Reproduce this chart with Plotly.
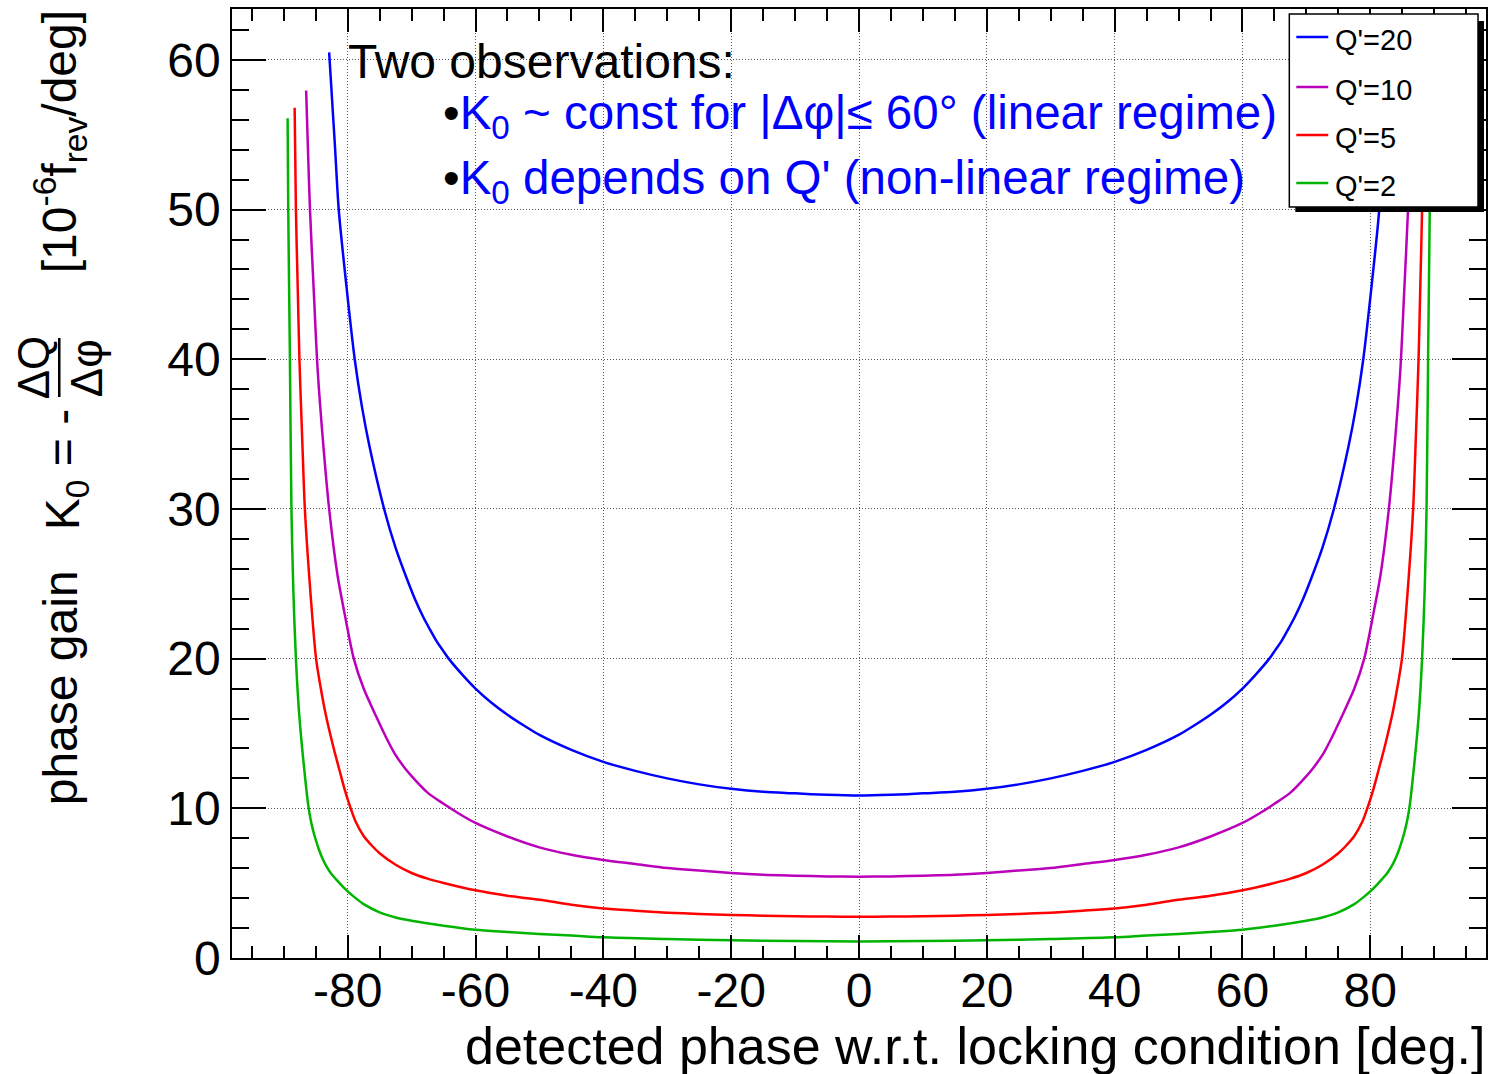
import plotly.graph_objects as go

# ---------------- data ----------------
phi_q20 = [-82.9, -82.0, -81.4, -80.2, -78.9, -77.8, -76.6, -74.3, -72.5, -70.8, -69.5, -68.2, -67.0, -66.0,
           -65.1, -64.2, -62.0, -60.0, -57.5, -55.0, -52.5, -50.0, -45.0, -40.0, -35.0, -30.0, -25.0, -20.0,
           -15.0, -10.0, -5.0,
           0.0,
           5.0, 10.0, 15.0, 20.0, 25.0, 30.0, 35.0, 40.0, 45.0, 50.0, 52.5, 55.0, 57.5, 60.0, 62.0,
           64.2, 65.1, 66.0, 67.0, 68.2, 69.5, 70.8, 72.5, 74.3, 76.6, 77.8, 78.9, 80.2, 81.4, 82.0, 82.9]
k_q20 = [60.5, 54.3, 50.0, 44.9, 40.0, 36.9, 34.2, 30.0, 27.4, 25.4, 24.0, 22.8, 21.85, 21.1,
         20.55, 20.0, 18.9, 18.0, 17.05, 16.25, 15.55, 14.9, 13.9, 13.1, 12.5, 12.0, 11.6, 11.3,
         11.1, 11.0, 10.9,
         10.85,
         10.9, 11.0, 11.1, 11.3, 11.6, 12.0, 12.5, 13.1, 13.9, 14.9, 15.55, 16.25, 17.05, 18.0, 18.9,
         20.0, 20.55, 21.1, 21.85, 22.8, 24.0, 25.4, 27.4, 30.0, 34.2, 36.9, 40.0, 44.9, 50.0, 54.3, 60.5]

phi_q10 = [-86.5, -86.2, -85.9, -85.3, -84.7, -83.8, -82.9, -81.6, -80.3, -79.05, -77.5, -75.5, -74.0, -72.5,
           -71.25, -70.0, -67.5, -65.0, -62.5, -60.0, -55.0, -50.0, -45.0, -40.0, -35.0, -30.0, -25.0, -20.0,
           -15.0, -10.0, -5.0,
           0.0,
           5.0, 10.0, 15.0, 20.0, 25.0, 30.0, 35.0, 40.0, 45.0, 50.0, 55.0, 60.0, 62.5, 65.0, 67.5,
           70.0, 71.25, 72.5, 74.0, 75.5, 77.5, 79.05, 80.3, 81.6, 82.9, 83.8, 84.7, 85.3, 85.9, 86.2, 86.5]
k_q10 = [57.95, 53.8, 50.0, 44.5, 39.3, 34.2, 30.0, 25.6, 22.6, 20.0, 18.0, 16.1, 14.75, 13.55,
         12.8, 12.15, 11.05, 10.3, 9.62, 9.02, 8.12, 7.39, 6.9, 6.55, 6.28, 6.01, 5.85, 5.68,
         5.56, 5.5, 5.45,
         5.43,
         5.45, 5.5, 5.56, 5.68, 5.85, 6.01, 6.28, 6.55, 6.9, 7.39, 8.12, 9.02, 9.62, 10.3, 11.05,
         12.15, 12.8, 13.55, 14.75, 16.1, 18.0, 20.0, 22.6, 25.6, 30.0, 34.2, 39.3, 44.5, 50.0, 53.8, 57.95]

phi_q5 = [-88.3, -88.1, -87.8, -87.55, -87.1, -86.7, -86.0, -84.95, -84.2, -83.5, -82.3, -81.1, -80.5, -80.0,
          -79.2, -78.8, -77.5, -76.2, -75.0, -72.5, -70.0, -67.5, -65.0, -60.0, -55.0, -50.0, -45.0, -40.0,
          -35.0, -30.0, -25.0, -20.0, -15.0, -10.0, -5.0,
          0.0,
          5.0, 10.0, 15.0, 20.0, 25.0, 30.0, 35.0, 40.0, 45.0, 50.0, 55.0, 60.0, 65.0, 67.5, 70.0,
          72.5, 75.0, 76.2, 77.5, 78.8, 79.2, 80.0, 80.5, 81.1, 82.3, 83.5, 84.2, 84.95, 86.0, 86.7,
          87.1, 87.55, 87.8, 88.1, 88.3]
k_q5 = [56.8, 50.0, 44.5, 40.0, 34.5, 30.0, 25.4, 20.0, 18.0, 16.4, 14.2, 12.25, 11.3, 10.6,
        9.6, 9.15, 8.15, 7.5, 7.0, 6.23, 5.68, 5.3, 5.01, 4.52, 4.16, 3.89, 3.56, 3.31,
        3.16, 3.03, 2.94, 2.87, 2.83, 2.79, 2.77,
        2.76,
        2.77, 2.79, 2.83, 2.87, 2.94, 3.03, 3.16, 3.31, 3.56, 3.89, 4.16, 4.52, 5.01, 5.3, 5.68,
        6.23, 7.0, 7.5, 8.15, 9.15, 9.6, 10.6, 11.3, 12.25, 14.2, 16.4, 18.0, 20.0, 25.4, 30.0,
        34.5, 40.0, 44.5, 50.0, 56.8]

phi_q2 = [-89.4, -89.3, -89.05, -88.8, -88.5, -88.1, -87.6, -87.1, -86.6, -86.2, -85.8, -85.4, -85.0, -84.5,
          -84.0, -83.3, -82.6, -81.8, -81.1, -80.0, -78.75, -77.5, -75.0, -72.5, -70.0, -65.0, -60.0, -55.0,
          -50.0, -45.0, -40.0, -30.0, -20.0, -10.0,
          0.0,
          10.0, 20.0, 30.0, 40.0, 45.0, 50.0, 55.0, 60.0, 65.0, 70.0, 72.5, 75.0, 77.5, 78.75, 80.0,
          81.1, 81.8, 82.6, 83.3, 84.0, 84.5, 85.0, 85.4, 85.8, 86.2, 86.6, 87.1, 87.6, 88.1, 88.5,
          88.8, 89.05, 89.3, 89.4]
k_q2 = [56.1, 50.0, 40.5, 30.0, 24.5, 20.0, 16.35, 13.9, 11.8, 10.3, 9.25, 8.5, 7.9, 7.25,
        6.7, 6.1, 5.65, 5.25, 4.92, 4.45, 4.0, 3.6, 3.05, 2.71, 2.49, 2.16, 1.89, 1.74,
        1.6, 1.5, 1.38, 1.27, 1.18, 1.13,
        1.11,
        1.13, 1.18, 1.27, 1.38, 1.5, 1.6, 1.74, 1.89, 2.16, 2.49, 2.71, 3.05, 3.6, 4.0, 4.45,
        4.92, 5.25, 5.65, 6.1, 6.7, 7.25, 7.9, 8.5, 9.25, 10.3, 11.8, 13.9, 16.35, 20.0, 24.5,
        30.0, 40.5, 50.0, 56.1]

series_names = ["Q'=20", "Q'=10", "Q'=5", "Q'=2"]
series_colors = ["#0000ff", "#bb00bb", "#ff0000", "#00b400"]
x_ticks = [-80, -60, -40, -20, 0, 20, 40, 60, 80]
x_ticktext = ["-80", "-60", "-40", "-20", "0", "20", "40", "60", "80"]
y_ticks = [0, 10, 20, 30, 40, 50, 60]

FONT = "Liberation Sans, Arial, Helvetica, sans-serif"

# ---------------- layout geometry (pixels) ----------------
W, H = 1492, 1074
ML, MR, MT, MB = 232, 4, 9, 116
PW, PH = W - ML - MR, H - MT - MB


def px(x):
    return (x - ML) / PW


def py(y):
    return (H - MB - y) / PH


fig = go.Figure()
for phi, k, name, col in zip([phi_q20, phi_q10, phi_q5, phi_q2],
                             [k_q20, k_q10, k_q5, k_q2],
                             series_names, series_colors):
    fig.add_trace(go.Scatter(x=phi, y=k, mode="lines", name=name,
                             line=dict(color=col, width=2.5, shape="spline", smoothing=0.8),
                             showlegend=False))

axis_common = dict(showline=True, linecolor="black", linewidth=1.5, mirror="ticks",
                   ticks="inside", tickcolor="black", tickwidth=1.5,
                   showgrid=True, gridcolor="#555555", gridwidth=1, griddash="1px,2px",
                   zeroline=False, tickfont=dict(family=FONT, size=48, color="black"))

fig.update_xaxes(range=[-98.1, 98.1], tickmode="array", tickvals=x_ticks, ticktext=x_ticktext,
                 ticklen=23, ticklabelstandoff=-10,
                 minor=dict(ticks="inside", ticklen=12, tickmode="linear", tick0=0, dtick=5,
                            tickcolor="black", tickwidth=1.5, showgrid=False),
                 **axis_common)
fig.update_yaxes(range=[0, 63.4], tickmode="array", tickvals=y_ticks,
                 ticklen=34, ticklabelstandoff=0,
                 minor=dict(ticks="inside", ticklen=17, tickmode="linear", tick0=0, dtick=2,
                            tickcolor="black", tickwidth=1.5, showgrid=False),
                 **axis_common)

annotations = []


def ann(text, x, y, size, color="black", xanchor="left", yanchor="middle", angle=0):
    annotations.append(dict(text=text, x=px(x), y=py(y), xref="paper", yref="paper",
                            xanchor=xanchor, yanchor=yanchor, showarrow=False, textangle=angle,
                            font=dict(family=FONT, size=size, color=color)))


# in-plot text
ann("Two observations:", 346, 61, 48)
ann("<span style='color:black'>•</span>K<sub>0</sub> ~ const for |Δφ|≤ 60° (linear regime)",
    441, 116, 47.5, color="#0000ff")
ann("<span style='color:black'>•</span>K<sub>0</sub> depends on Q' (non-linear regime)",
    441, 181, 47.5, color="#0000ff")

# x axis title
ann("detected phase w.r.t. locking condition [deg.]", 1489, 1046, 52, xanchor="right")

# y axis title (rotated pieces)
ann("phase gain", 61, 688, 48, xanchor="center", angle=-90)
ann("K<sub>0</sub> = -", 66, 470, 48, xanchor="center", angle=-90)
ann("ΔQ", 34, 367, 44, xanchor="center", angle=-90)
ann("Δφ", 86, 368, 44, xanchor="center", angle=-90)
ann("[10<sup>-6</sup>f<sub>rev</sub>/deg]", 60, 142, 48, xanchor="center", angle=-90)

shapes = []
# fraction bar
shapes.append(dict(type="line", xref="paper", yref="paper", x0=px(59), x1=px(59),
                   y0=py(338), y1=py(397), line=dict(color="black", width=2.5)))

# legend box with shadow
shapes.append(dict(type="rect", xref="paper", yref="paper", x0=px(1297), x1=px(1486),
                   y0=py(212), y1=py(21), fillcolor="black", line=dict(width=0), layer="above"))
shapes.append(dict(type="rect", xref="paper", yref="paper", x0=px(1291), x1=px(1480),
                   y0=py(207), y1=py(14), fillcolor="white", line=dict(color="black", width=1.5),
                   layer="above"))
legend_y = [37, 87, 135, 183]
for name, col, ly in zip(series_names, series_colors, legend_y):
    shapes.append(dict(type="line", xref="paper", yref="paper", x0=px(1298), x1=px(1330),
                       y0=py(ly), y1=py(ly), line=dict(color=col, width=2.5), layer="above"))
    ann(name, 1335, ly + 3, 29)

fig.update_layout(width=W, height=H, margin=dict(l=ML, r=MR, t=MT, b=MB),
                  paper_bgcolor="white", plot_bgcolor="white",
                  annotations=annotations, shapes=shapes, showlegend=False,
                  font=dict(family=FONT))

fig.write_html("out.html")
